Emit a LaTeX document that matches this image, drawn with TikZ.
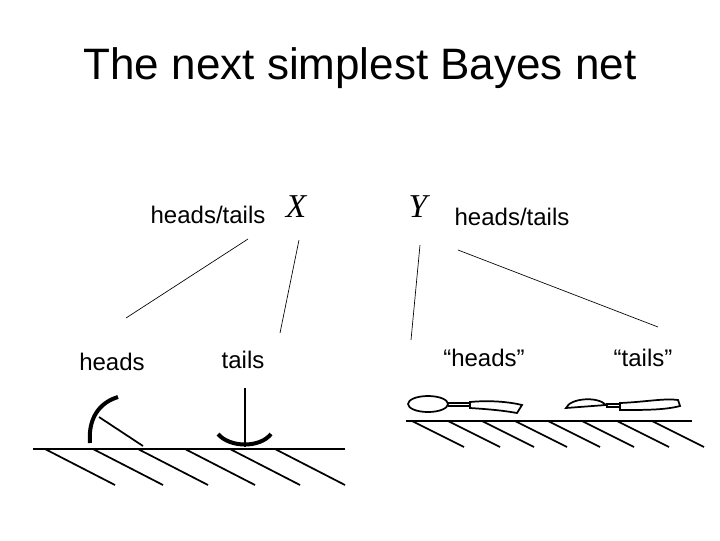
\documentclass[tikz,border=0pt]{standalone}
\usepackage{fontspec}
\setmainfont{Liberation Sans}
\newfontfamily\serifx{Liberation Serif}
\begin{document}
\begin{tikzpicture}[x=0.75pt,y=-0.75pt,
  lbl/.style={font=\fontsize{18}{20}\selectfont,inner sep=0},
  var/.style={font=\serifx\itshape\fontsize{25}{28}\selectfont,inner sep=0},
  ln/.style={line width=0.5pt},
  thick1/.style={line width=1.3pt},
  heavy/.style={line width=3pt}]
\useasboundingbox (0,0) rectangle (720,540);
\node[font=\fontsize{33}{38}\selectfont] (title) at (360,68) {The next simplest Bayes net};
\node[lbl] (ht1) at (208,215) {heads/tails};
\node[var] (X) at (296,207) {X};
\node[var] (Y) at (418,207) {Y};
\node[lbl] (ht2) at (512,217) {heads/tails};
\node[lbl] (h1) at (112,362) {heads};
\node[lbl] (t1) at (243,360) {tails};
\node[lbl] (h2) at (484,358) {“heads”};
\node[lbl] (t2) at (643,358) {“tails”};
\coordinate (a1) at (248,239); \coordinate (a2) at (126,318);
\coordinate (b1) at (299,240); \coordinate (b2) at (280,333);
\coordinate (c1) at (420,245); \coordinate (c2) at (411,340);
\coordinate (d1) at (458,250); \coordinate (d2) at (658,327);
\draw[ln] (a1) -- (a2);
\draw[ln] (b1) -- (b2);
\draw[ln] (c1) -- (c2);
\draw[ln] (d1) -- (d2);
% left ground
\draw[thick1] (33,449) -- (345,449);
\foreach \x in {45,93,138,185,230,275} \draw[thick1] (\x,449) -- ++(70,36);
\draw[heavy] (90,443) .. controls (88,420) and (98,403) .. (118,397);
\draw[thick1] (99,417) -- (143,446);
\draw[thick1] (245,388) -- (245,447);
\draw[heavy] (218,434) .. controls (230,448) and (260,448) .. (271,434);
% right ground
\draw[thick1] (406,421) -- (692,421);
\foreach \x in {412,448,482,515,548,582,617,652} \draw[thick1] (\x,421) -- ++(52,26);
\draw[thick1] (428,404) ellipse (20 and 8);
\draw[thick1] (448,403) -- (470,403);
\draw[thick1] (448,406) -- (470,406);
\draw[thick1] (470,402) .. controls (490,400) and (510,402) .. (522,405) -- (517,413) .. controls (500,410) and (485,409) .. (470,408) -- cycle;
\draw[thick1] (566,408) .. controls (570,398) and (598,396) .. (606,405) -- cycle;
\draw[thick1] (606,404) -- (620,404);
\draw[thick1] (606,407) -- (620,407);
\draw[thick1] (620,403) .. controls (645,402) and (665,398) .. (678,400) -- (680,406) .. controls (665,410) and (645,410) .. (620,410) -- cycle;
\end{tikzpicture}
\end{document}
